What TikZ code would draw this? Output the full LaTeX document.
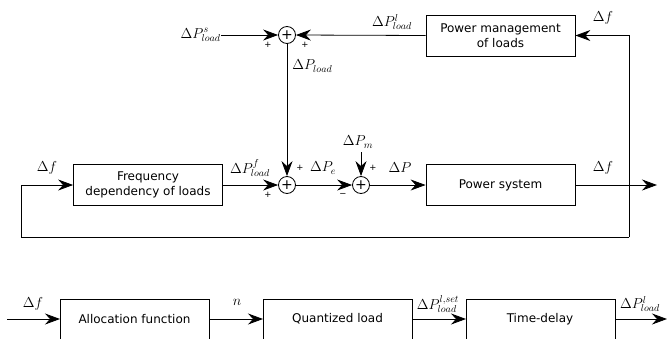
\documentclass[tikz,border=0pt]{standalone}
\usepackage{fontspec}
\setsansfont{DejaVu Sans}
\usetikzlibrary{arrows.meta}
\begin{document}
\begin{tikzpicture}[x=1pt,y=-1pt,
  line width=0.8pt,
  arr/.style={-{Stealth[length=15pt,width=11pt,inset=5pt]}},
  blk/.style={draw,minimum width=149pt,minimum height=41pt,inner sep=1pt,align=center,font=\sffamily\fontsize{12}{14.5}\selectfont},
  sumc/.style={draw,circle,minimum size=17pt,inner sep=0pt,font=\sffamily\fontsize{14}{14}\selectfont},
  lbl/.style={inner sep=0pt,font=\fontsize{14.4}{16}\selectfont},
  sgn/.style={inner sep=0pt,font=\sffamily\fontsize{8.5}{8.5}\selectfont}]
\clip (0,0) rectangle (667,338);
% top
\node[sumc] (s1) at (287,35) {+};
\node[blk] (pm) at (500.5,35.5) {Power management\\of loads};
\node[lbl,anchor=east] (ps) at (221,35) {$\Delta P^{s}_{load}$};
\node[lbl] (lpl) at (392,22) {$\Delta P^{l}_{load}$};
\node[lbl,anchor=west] (lpld) at (292,66) {$\Delta P_{load}$};
\node[lbl] (ldf1) at (603,18) {$\Delta f$};
\node[sgn] at (268,45) {+};
\node[sgn] at (305,45) {+};
% middle
\node[blk] (fd) at (148,185) {Frequency\\dependency of loads};
\node[sumc] (s2) at (287,185) {+};
\node[sumc] (s3) at (361,185) {+};
\node[blk] (sys) at (500.5,185) {Power system};
\node[lbl] (pm2) at (358,142) {$\Delta P_{m}$};
\coordinate (pmtop) at (361,152);
\node[lbl] at (250,168) {$\Delta P^{f}_{load}$};
\node[lbl] at (323,168) {$\Delta P_{e}$};
\node[lbl] at (400,168) {$\Delta P$};
\node[lbl] at (603,168) {$\Delta f$};
\node[lbl] at (47,168) {$\Delta f$};
\node[sgn] at (300,168) {+};
\node[sgn] at (268,195) {+};
\node[sgn] at (373,168) {+};
\node[sgn] at (343,195) {\textminus};
\coordinate (out) at (657,185);
\coordinate (rt) at (629,35.5);
\coordinate (rb) at (629,237);
\coordinate (lb) at (21,237);
\coordinate (lt) at (21,185);
\draw[arr] (ps.east) -- (s1.west);
\draw[arr] (pm.west) -- (s1.east);
\draw[arr] (s1.south) -- (s2.north);
\draw[arr] (pmtop) -- (s3.north);
\draw[arr] (fd.east) -- (s2.west);
\draw[arr] (s2.east) -- (s3.west);
\draw[arr] (s3.east) -- (sys.west);
\draw[arr] (sys.east) -- (out);
\draw[arr] (rb) -- (rt) -- (pm.east);
\draw[arr] (rb) -- (lb) -- (lt) -- (fd.west);
% bottom
\node[blk,anchor=north west] (af) at (60,299) {};
\node[font=\sffamily\fontsize{12}{14.5}\selectfont] at (134.5,319) {Allocation function};
\node[blk,anchor=north west] (ql) at (263,299) {};
\node[font=\sffamily\fontsize{12}{14.5}\selectfont] at (337.5,319) {Quantized load};
\node[blk,anchor=north west] (td) at (466,299) {};
\node[font=\sffamily\fontsize{12}{14.5}\selectfont] at (540,319) {Time-delay};
\coordinate (bin) at (7,319);
\coordinate (bout) at (667,319);
\node[lbl] at (33,304) {$\Delta f$};
\node[lbl] at (237,302) {$n$};
\node[lbl] at (438,304) {$\Delta P^{l,set}_{load}$};
\node[lbl] at (640,304) {$\Delta P^{l}_{load}$};
\draw[arr] (bin) -- (af.west |- bin);
\draw[arr] (af.east |- bin) -- (ql.west |- bin);
\draw[arr] (ql.east |- bin) -- (td.west |- bin);
\draw[arr] (td.east |- bin) -- (bout);
\end{tikzpicture}
\end{document}
